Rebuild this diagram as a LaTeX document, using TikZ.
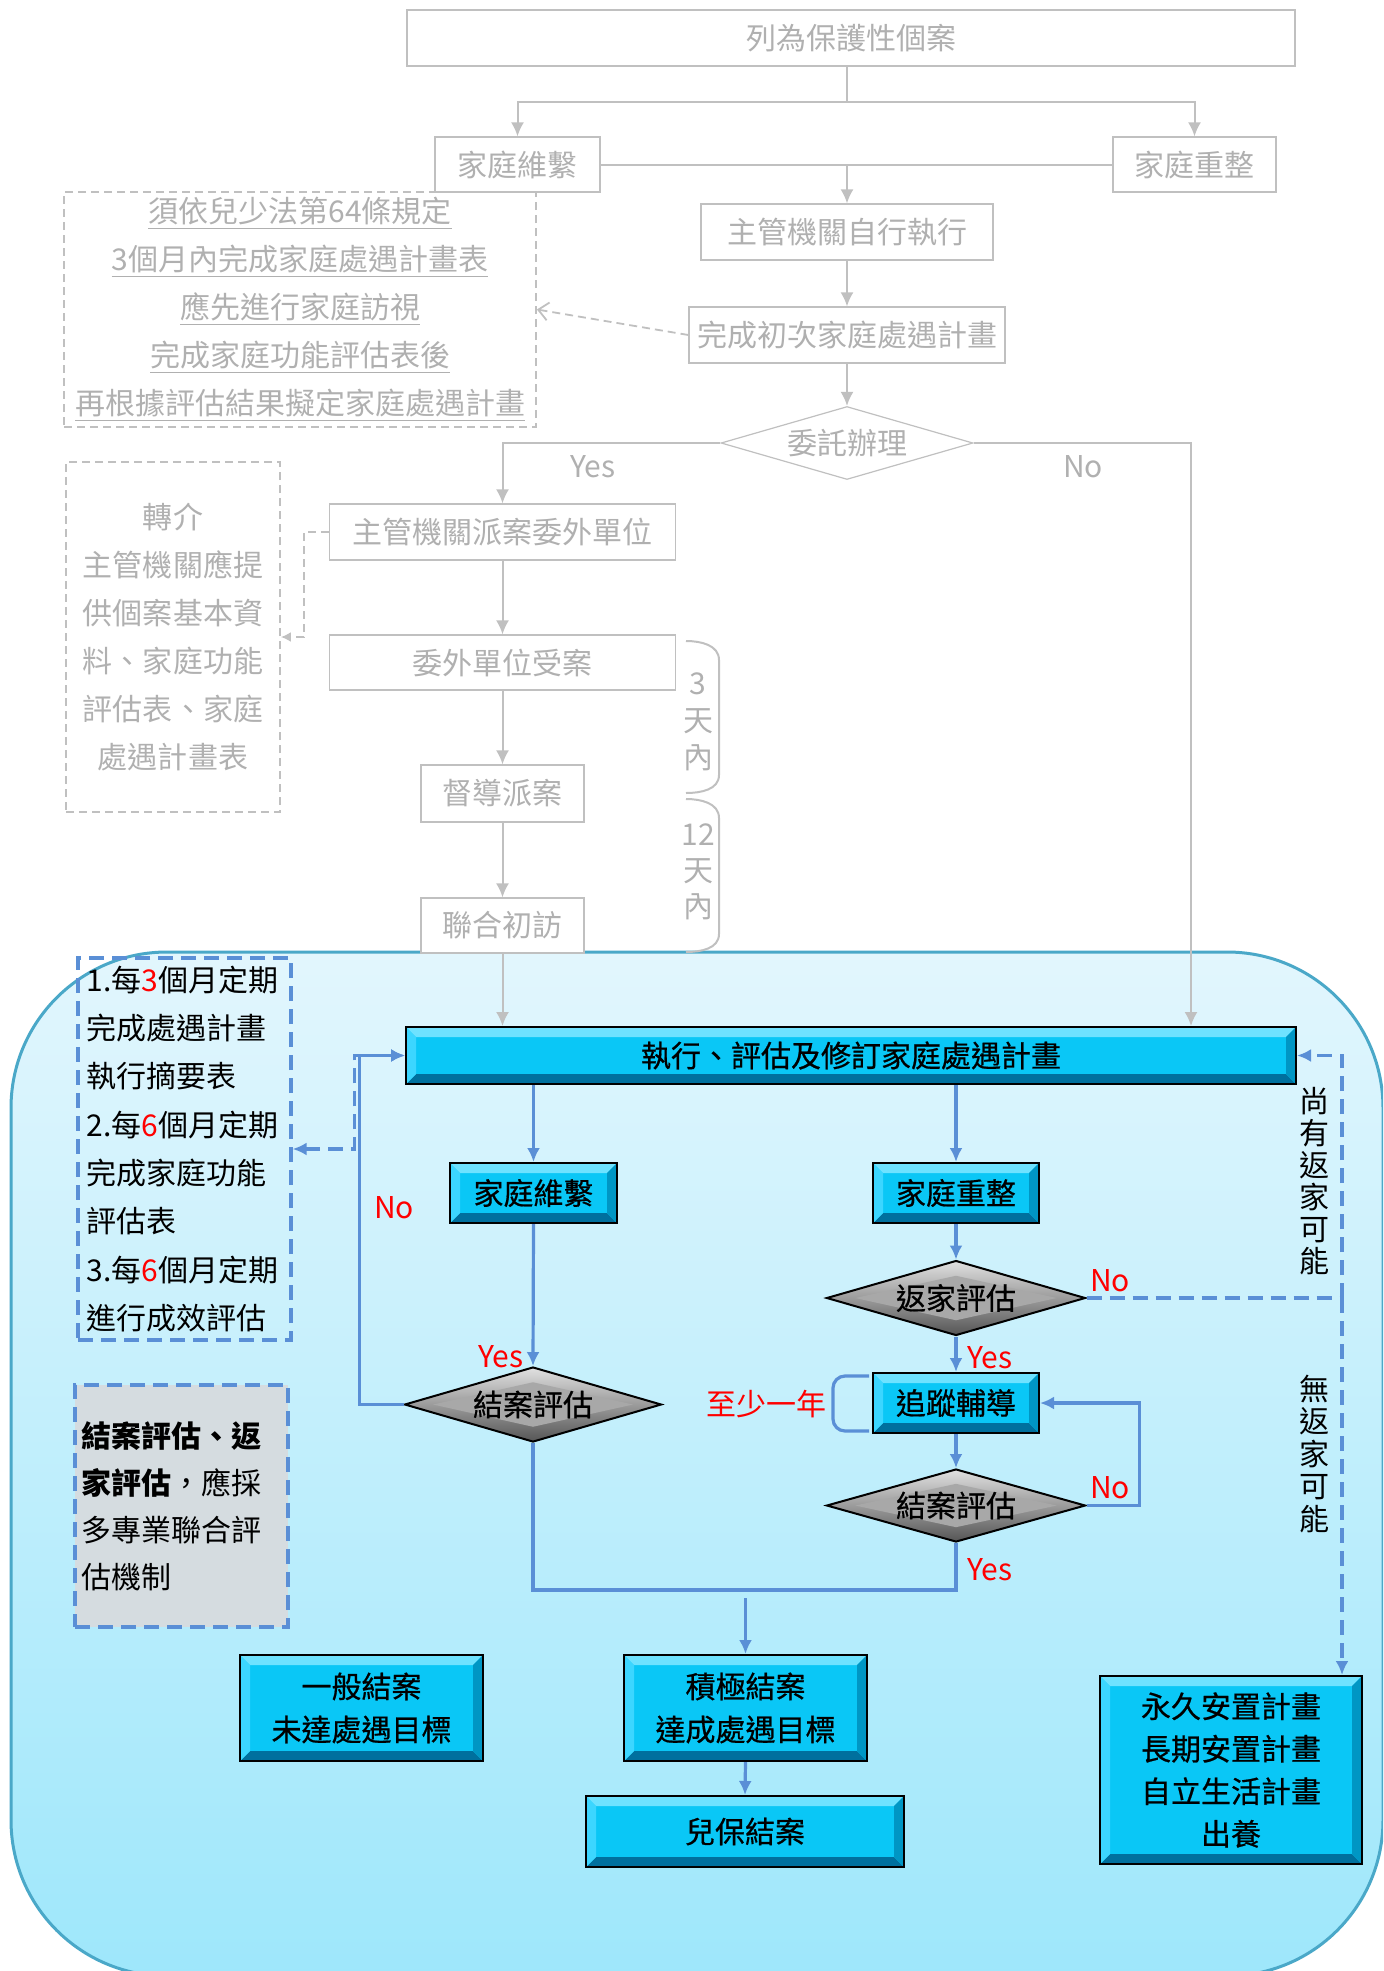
\documentclass[tikz,border=0pt]{standalone}
\usepackage{fontspec}
\setmainfont{Noto Sans CJK TC}
\newfontfamily\boxfam{Noto Sans CJK TC}[FakeBold=0.6]
\usetikzlibrary{arrows.meta,shapes.geometric,calc}

\definecolor{cGline}{RGB}{192,192,192}
\definecolor{cGtext}{RGB}{176,176,176}
\definecolor{cBline}{RGB}{90,143,214}
\definecolor{cCface}{RGB}{10,199,246}
\definecolor{cBevT}{RGB}{110,226,255}
\definecolor{cBevL}{RGB}{60,214,255}
\definecolor{cBevR}{RGB}{0,150,196}
\definecolor{cBevB}{RGB}{0,112,158}
\definecolor{cBgtop}{RGB}{226,246,253}
\definecolor{cBgbot}{RGB}{158,231,251}
\definecolor{cBgedge}{RGB}{74,168,200}
\definecolor{cNote}{RGB}{213,220,224}
\definecolor{cDface}{RGB}{168,168,168}
\definecolor{cDtop}{RGB}{225,225,225}
\definecolor{cDbot}{RGB}{85,85,85}

\newcommand\myfont{\fontsize{15pt}{18pt}\selectfont}

\tikzset{
  gbox/.style={draw=cGline, line width=0.6pt, fill=white, text=cGtext, inner sep=0pt, font=\myfont},
  glin/.style={draw=cGline, line width=1pt},
  garr/.style={glin, -{Latex[length=7pt,width=6.5pt]}},
  gdsh/.style={draw=cGline, line width=0.9pt, dash pattern=on 4pt off 2.5pt},
  gtxt/.style={text=cGtext, inner sep=0pt, font=\myfont},
  rtxt/.style={text=red, inner sep=0pt, font=\myfont},
  blin/.style={draw=cBline, line width=1.6pt},
  barr/.style={blin, -{Latex[length=7pt,width=6.5pt]}},
  bdsh/.style={draw=cBline, line width=1.6pt, dash pattern=on 7.5pt off 4pt},
  cbox/.style={draw=black, line width=1pt, fill=cCface, inner sep=0pt, text=black, font=\boxfam\myfont,
    path picture={
      \coordinate (pNW) at (path picture bounding box.north west);
      \coordinate (pNE) at (path picture bounding box.north east);
      \coordinate (pSW) at (path picture bounding box.south west);
      \coordinate (pSE) at (path picture bounding box.south east);
      \fill[cBevT] (pNW) -- (pNE) -- ([shift={(-5pt,-5pt)}]pNE) -- ([shift={(5pt,-5pt)}]pNW) -- cycle;
      \fill[cBevB] (pSW) -- (pSE) -- ([shift={(-5pt,5pt)}]pSE) -- ([shift={(5pt,5pt)}]pSW) -- cycle;
      \fill[cBevL] (pNW) -- ([shift={(5pt,-5pt)}]pNW) -- ([shift={(5pt,5pt)}]pSW) -- (pSW) -- cycle;
      \fill[cBevR] (pNE) -- ([shift={(-5pt,-5pt)}]pNE) -- ([shift={(-5pt,5pt)}]pSE) -- (pSE) -- cycle;
    }},
  dia/.style={shape=diamond, draw=black, line width=1pt, inner sep=0pt, aspect=3.45,
    top color=cDtop, bottom color=cDbot, text=black, font=\boxfam\myfont,
    path picture={
      \coordinate (pC) at (path picture bounding box.center);
      \fill[cDface] ($(pC)!0.78!(path picture bounding box.west)$) -- ($(pC)!0.6!(path picture bounding box.north)$)
        -- ($(pC)!0.78!(path picture bounding box.east)$) -- ($(pC)!0.6!(path picture bounding box.south)$) -- cycle;
    }},
}

\begin{document}
\begin{tikzpicture}[x=0.5pt,y=-0.5pt]
\useasboundingbox (0,0) rectangle (1383,1971);
\clip (0,0) rectangle (1383,1971);

% background region
\path[draw=cBgedge, line width=1.5pt, top color=cBgtop, bottom color=cBgbot, rounded corners=78pt]
  (11,952) rectangle (1383,1976);

% ---------- grey upper part ----------
\node[gbox, minimum width=444pt, minimum height=28pt] (n1) at (851,38) {列為保護性個案};
\node[gbox, minimum width=82.5pt, minimum height=27.5pt] (n2) at (517.5,164.5) {家庭維繫};
\node[gbox, minimum width=81.5pt, minimum height=27.5pt] (n3) at (1194.5,164.5) {家庭重整};
\node[gbox, minimum width=146pt, minimum height=28pt] (n4) at (847,232) {主管機關自行執行};
\node[gbox, minimum width=158pt, minimum height=28pt] (n5) at (847,335) {完成初次家庭處遇計畫};
\node[gdsh, text=cGtext, fill=none, inner sep=0pt, minimum width=236pt, minimum height=117.5pt,
      align=center, font=\fontsize{15pt}{24pt}\selectfont] (n6) at (300,309.5)
  {\underline{須依兒少法第64條規定}\\\underline{3個月內完成家庭處遇計畫表}\\\underline{應先進行家庭訪視}\\\underline{完成家庭功能評估表後}\\\underline{再根據評估結果擬定家庭處遇計畫}};
\node[shape=diamond, draw=cGline, line width=0.6pt, fill=white, inner sep=0pt, aspect=3.45,
      minimum width=126pt, minimum height=36.5pt, text=cGtext, font=\myfont] (n7) at (847,443) {委託辦理};
\node[gbox, minimum width=173pt, minimum height=28pt] (n8) at (502.5,532) {主管機關派案委外單位};
\node[gbox, minimum width=173pt, minimum height=27.5pt] (n9) at (502.5,662.5) {委外單位受案};
\node[gbox, minimum width=81.5pt, minimum height=28.5pt] (n10) at (502.5,793.5) {督導派案};
\node[gbox, minimum width=81.5pt, minimum height=27.5pt] (n11) at (502.5,925.5) {聯合初訪};
\node[gdsh, text=cGtext, inner sep=0pt, minimum width=107pt, minimum height=175pt,
      align=center, font=\fontsize{15pt}{24pt}\selectfont] (n12) at (173,637)
  {轉介\\主管機關應提\\供個案基本資\\料、家庭功能\\評估表、家庭\\處遇計畫表};

\node[gtxt] (lyes1) at (593,467) {Yes};
\node[gtxt] (lno1) at (1083,467) {No};
\node[gtxt, align=center, font=\fontsize{15pt}{18.5pt}\selectfont] (l3d) at (698,722) {3\\天\\內};
\node[gtxt, align=center, font=\fontsize{15pt}{18pt}\selectfont] (l12d) at (698,872) {12\\天\\內};

\coordinate (j1) at (847,102);
\draw[glin] (n1.south -| j1) -- (j1);
\draw[garr] (j1) -| (n2.north);
\draw[garr] (j1) -| (n3.north);
\draw[glin] (n2.east) -- (n3.west);
\draw[garr] (n2.east -| n4.north) -- (n4.north);
\draw[garr] (n4.south) -- (n5.north);
\draw[garr] (n5.south) -- (n7.north);
\draw[gdsh, -{Straight Barb[length=5pt,width=9pt]}] (n5.west) -- (n6.east);
\draw[garr] (n7.west) -| (n8.north);
\draw[garr] (n8.south) -- (n9.north);
\draw[garr] (n9.south) -- (n10.north);
\draw[garr] (n10.south) -- (n11.north);
\draw[gdsh, -{Latex[length=5pt,width=5pt]}] (n8.west) -- ++(-25,0) |- (n12.east);
% brackets
\draw[glin] (686,641) to[out=0,in=90] (719,660) -- (719,775) to[out=-90,in=0] (686,793);
\draw[glin] (686,799) to[out=0,in=90] (719,818) -- (719,934) to[out=-90,in=0] (686,952);

% ---------- blue lower part ----------
\node[cbox, minimum width=445pt, minimum height=28.5pt] (m1) at (851,1055.5) {執行、評估及修訂家庭處遇計畫};
\node[cbox, minimum width=83.5pt, minimum height=30pt] (m2) at (533.5,1193) {家庭維繫};
\node[cbox, minimum width=83pt, minimum height=30pt] (m3) at (956,1193) {家庭重整};
\node[dia, minimum width=129.5pt, minimum height=37.5pt] (m4) at (956,1298) {返家評估};
\node[cbox, minimum width=83pt, minimum height=30pt] (m5) at (956,1403) {追蹤輔導};
\node[dia, minimum width=129.5pt, minimum height=36.5pt] (m6) at (956,1505.5) {結案評估};
\node[dia, minimum width=128.5pt, minimum height=37.5pt] (m7) at (533,1404.5) {結案評估};
\node[cbox, minimum width=121.5pt, minimum height=53pt, align=center, font=\boxfam\fontsize{15pt}{21.5pt}\selectfont] (m8) at (361.5,1708) {一般結案\\未達處遇目標};
\node[cbox, minimum width=121.5pt, minimum height=53pt, align=center, font=\boxfam\fontsize{15pt}{21.5pt}\selectfont] (m9) at (745.5,1708) {積極結案\\達成處遇目標};
\node[cbox, minimum width=159pt, minimum height=35.5pt] (m10) at (745,1831.5) {兒保結案};
\node[cbox, minimum width=131pt, minimum height=94pt, align=center, font=\boxfam\fontsize{15pt}{21.25pt}\selectfont] (m11) at (1231,1770) {永久安置計畫\\長期安置計畫\\自立生活計畫\\出養};
\node[bdsh, inner ysep=0pt, inner xsep=4pt, minimum width=106.5pt, minimum height=191pt, text width=98pt,
      align=left, font=\fontsize{15pt}{24.15pt}\selectfont] (m12) at (184.5,1149)
  {1.每\textcolor{red}{3}個月定期\\完成處遇計畫\\執行摘要表\\2.每\textcolor{red}{6}個月定期\\完成家庭功能\\評估表\\3.每\textcolor{red}{6}個月定期\\進行成效評估};
\node[bdsh, fill=cNote, inner ysep=0pt, inner xsep=3pt, minimum width=106.5pt, minimum height=121pt, text width=100pt,
      align=left, font=\fontsize{15pt}{23.5pt}\selectfont] (m13) at (181.5,1506)
  {\textbf{結案評估、返}\\\textbf{家評估}，應採\\多專業聯合評\\估機制};

\node[rtxt] (lno2) at (394,1208) {No};
\node[rtxt] (lyes2) at (501,1357) {Yes};
\node[rtxt] (lno3) at (1110,1281) {No};
\node[rtxt] (lyes3) at (990,1358) {Yes};
\node[rtxt] (lno4) at (1110,1488) {No};
\node[rtxt] (lyes4) at (990,1570) {Yes};
\node[rtxt] (l1yr) at (766,1404) {至少一年};
\node[inner sep=0pt, align=center, font=\fontsize{15pt}{16pt}\selectfont] (lret) at (1314,1181) {尚\\有\\返\\家\\可\\能};
\node[inner sep=0pt, align=center, font=\fontsize{15pt}{16.25pt}\selectfont] (lnoret) at (1314,1454) {無\\返\\家\\可\\能};

% grey arrows into blue area
\draw[garr] (n11.south) -- (n11.south |- m1.north);
\draw[garr] (n7.east) -| ($(m1.north east)+(-106,0)$);

\draw[barr] (m2.north |- m1.south) -- (m2.north);
\draw[barr] (m3.north |- m1.south) -- (m3.north);
\draw[barr] (m2.south) -- (m7.north);
\draw[barr] (m3.south) -- (m4.north);
\draw[barr] (m4.south) -- (m5.north);
\draw[barr] (m5.south) -- (m6.north);
\draw[barr] (m6.east) -- ++(53,0) |- (m5.east);
\draw[barr] (m7.west) -- ++(-44,0) |- (m1.west);
\coordinate (jb) at (745.5,1590);
\draw[blin] (m7.south) |- (jb) -| (m6.south);
\draw[barr] ([yshift=-4pt]jb) -- (m9.north);
\draw[barr] (m9.south) -- (m10.north);
\draw[blin, rounded corners=6pt] (869,1376) -- (833,1376) -- (833,1431) -- (869,1431);

\coordinate (jr) at (1342,1298);
\draw[bdsh] (m4.east) -- (jr);
\draw[bdsh, -{Latex[length=7pt,width=6.5pt]}] (jr) |- (m1.east);
\draw[bdsh, -{Latex[length=7pt,width=6.5pt]}] (jr) -- (jr |- m11.north);
\draw[bdsh, {Latex[length=7pt,width=6.5pt]}-{Latex[length=7pt,width=6.5pt]}] (m12.east) -- ++(62,0) |- (m1.west);
\end{tikzpicture}
\end{document}
